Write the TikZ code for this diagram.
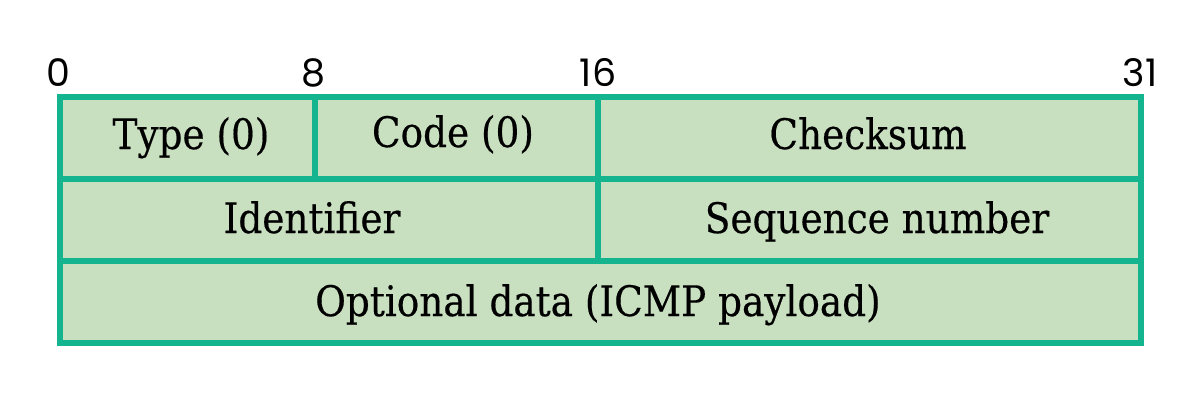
\documentclass[tikz,border=0pt]{standalone}
\usepackage{fontspec}
\setmainfont[FakeStretch=0.89,FakeBold=0.4]{DejaVu Serif}
\newfontfamily\numfont{Poppins}
\definecolor{tealline}{RGB}{20,180,143}
\definecolor{cellfill}{RGB}{201,224,192}
\begin{document}
\begin{tikzpicture}[x=1pt,y=-1pt,
  cell/.style={draw=tealline,fill=cellfill,line width=6pt},
  field/.style={anchor=base,inner sep=0pt,font=\fontsize{42}{46}\selectfont,text=black},
  bitnum/.style={anchor=base,inner sep=0pt,font=\numfont\fontsize{38}{42}\selectfont,text=black}]
\useasboundingbox (0,0) rectangle (1200,400);
\fill[white] (0,0) rectangle (1200,400);
% cells
\draw[cell] (59.5,97) rectangle (315,178.5);
\draw[cell] (315,97) rectangle (598,178.5);
\draw[cell] (598,97) rectangle (1141,178.5);
\draw[cell] (59.5,178.5) rectangle (598,260.5);
\draw[cell] (598,178.5) rectangle (1141,260.5);
\draw[cell] (59.5,260.5) rectangle (1141,342.5);
% bit numbers
\node[bitnum] (b0) at (58,86) {0};
\node[bitnum] (b8) at (313,86) {8};
\node[bitnum] (b16) at (598,86) {16};
\node[bitnum] (b31) at (1140,86) {31};
% field labels
\node[field] (type) at (191,149) {Type (0)};
\node[field] (code) at (453,147) {Code (0)};
\node[field] (chk) at (868,149) {Checksum};
\node[field] (ident) at (312,233) {Identifier};
\node[field] (seq) at (877,233) {Sequence number};
\node[field] (opt) at (598,316) {Optional data (ICMP payload)};
\end{tikzpicture}
\end{document}
